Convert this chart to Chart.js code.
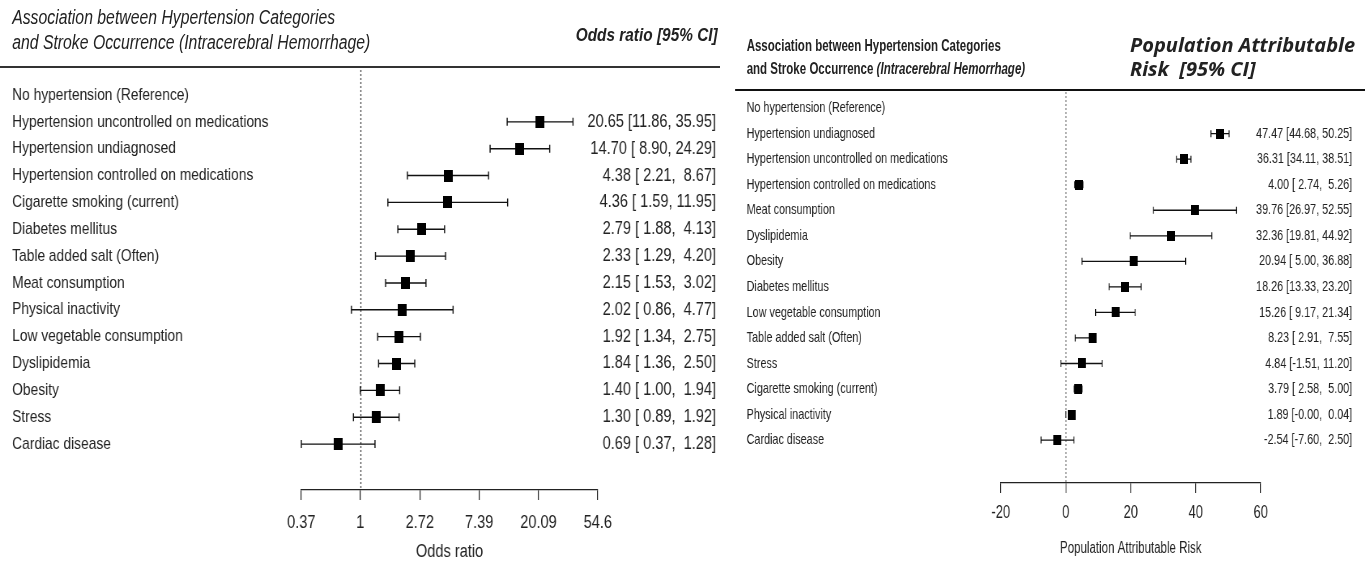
<!DOCTYPE html>
<html>
<head>
<meta charset="utf-8">
<script src="https://cdn.jsdelivr.net/npm/chart.js@4.4.0/dist/chart.umd.min.js"></script>
<style>
  body { margin:0; width:1365px; height:570px; background:#fff; overflow:hidden; position:relative;
         font-family:'Liberation Sans',Arial,sans-serif; color:#222; }
  .panel { position:absolute; top:0; height:570px; transform-origin:0 0; }
  /* the source figure uses a narrow face, so each panel is squeezed sideways */
  #left { left:0; width:889px; transform:scaleX(0.81); }
  #right { left:720px; width:896px; transform:scaleX(0.72); }
  canvas { position:absolute; left:0; top:0; }
  .ttl { position:absolute; white-space:nowrap; }
  .rule { position:absolute; background:#333; }
</style>
</head>
<body>
<div id="left" class="panel">
  <canvas id="orChart" width="889" height="570"></canvas>
  <div class="ttl" style="left:15px;top:5px;font-size:19.5px;line-height:25px;font-style:italic">Association between Hypertension Categories<br>and Stroke Occurrence (Intracerebral Hemorrhage)</div>
  <div class="ttl" style="right:3px;top:23px;font-size:19px;line-height:24px;font-style:italic;font-weight:bold">Odds ratio [95% CI]</div>
  <div class="rule" style="left:0;top:66px;width:889px;height:2px"></div>
</div>
<div id="right" class="panel">
  <canvas id="parChart" width="896" height="570"></canvas>
  <div class="ttl" style="left:37px;top:34px;font-size:16px;line-height:23px;font-weight:bold">Association between Hypertension Categories<br>and Stroke Occurrence <i>(Intracerebral Hemorrhage)</i></div>
  <div class="rule" style="left:21px;top:89px;width:875px;height:2px;background:#111"></div>
</div>
<div class="ttl" style="left:1130px;top:33px;font-family:'Open Sans',sans-serif;font-weight:700;font-style:italic;font-size:20px;line-height:24px">Population Attributable<br>Risk&nbsp; [95% CI]</div>

<script>
// ---- odds ratio panel data ----
var orLabels = ['No hypertension (Reference)', 'Hypertension uncontrolled on medications', 'Hypertension undiagnosed',
  'Hypertension controlled on medications', 'Cigarette smoking (current)', 'Diabetes mellitus', 'Table added salt (Often)',
  'Meat consumption', 'Physical inactivity', 'Low vegetable consumption', 'Dyslipidemia', 'Obesity', 'Stress', 'Cardiac disease'];
var orEst  = [null, 20.65, 14.70, 4.38, 4.36, 2.79, 2.33, 2.15, 2.02, 1.92, 1.84, 1.40, 1.30, 0.69];
var orLow  = [null, 11.86, 8.90, 2.21, 1.59, 1.88, 1.29, 1.53, 0.86, 1.34, 1.36, 1.00, 0.89, 0.37];
var orHigh = [null, 35.95, 24.29, 8.67, 11.95, 4.13, 4.20, 3.02, 4.77, 2.75, 2.50, 1.94, 1.92, 1.28];
var orTicks = [0.37, 1, 2.72, 7.39, 20.09, 54.6];

// ---- population attributable risk panel data ----
var parLabels = ['No hypertension (Reference)', 'Hypertension undiagnosed', 'Hypertension uncontrolled on medications',
  'Hypertension controlled on medications', 'Meat consumption', 'Dyslipidemia', 'Obesity', 'Diabetes mellitus',
  'Low vegetable consumption', 'Table added salt (Often)', 'Stress', 'Cigarette smoking (current)', 'Physical inactivity', 'Cardiac disease'];
var parEst  = [null, 47.47, 36.31, 4.00, 39.76, 32.36, 20.94, 18.26, 15.26, 8.23, 4.84, 3.79, 1.89, -2.54];
var parLow  = [null, 44.68, 34.11, 2.74, 26.97, 19.81, 5.00, 13.33, 9.17, 2.91, -1.51, 2.58, -0.003, -7.60];
var parHigh = [null, 50.25, 38.51, 5.26, 52.55, 44.92, 36.88, 23.20, 21.34, 7.55, 11.20, 5.00, 0.04, 2.50];
var parTicks = [-20, 0, 20, 40, 60];

var FONT = "'Liberation Sans', Arial, sans-serif";
var INK = '#222';

function ciText(est, lo, hi) {
  var f = function (v) { return v.toFixed(2).padStart(5, ' '); };
  return est.toFixed(2) + ' [' + f(lo) + ', ' + f(hi) + ']';
}

function points(est) {
  var out = [];
  est.forEach(function (v, i) { if (v != null) out.push({ x: v, y: i }); });
  return out;
}

// little filled box used as the point marker
function box(w, h) {
  var c = document.createElement('canvas');
  c.width = w; c.height = h;
  var g = c.getContext('2d');
  g.fillStyle = '#000';
  g.fillRect(0, 0, w, h);
  return c;
}

// dotted null line, CI whiskers and the estimate text column
function makeForest(cfg) {
  return {
    id: 'forest',
    beforeDatasetsDraw: function (chart) {
      var ctx = chart.ctx, a = chart.chartArea, x = chart.scales.x, y = chart.scales.y;
      ctx.save();
      var x0 = Math.round(x.getPixelForValue(cfg.nullValue)) + 0.5;
      ctx.strokeStyle = '#333';
      ctx.lineWidth = 1.2;
      ctx.setLineDash([2, 2]);
      ctx.beginPath(); ctx.moveTo(x0, a.top); ctx.lineTo(x0, a.bottom); ctx.stroke();
      ctx.setLineDash([]);
      ctx.strokeStyle = '#111';
      ctx.lineWidth = cfg.lineWidth;
      cfg.low.forEach(function (lo, i) {
        if (lo == null) return;
        var yy = y.getPixelForValue(i);
        var x1 = x.getPixelForValue(lo), x2 = x.getPixelForValue(cfg.high[i]);
        ctx.beginPath();
        ctx.moveTo(x1, yy); ctx.lineTo(x2, yy);
        ctx.moveTo(x1, yy - cfg.cap); ctx.lineTo(x1, yy + cfg.cap);
        ctx.moveTo(x2, yy - cfg.cap); ctx.lineTo(x2, yy + cfg.cap);
        ctx.stroke();
      });
      ctx.restore();
    },
    afterDatasetsDraw: function (chart) {
      var ctx = chart.ctx, y = chart.scales.y;
      ctx.save();
      ctx.font = cfg.font;
      ctx.fillStyle = INK;
      ctx.textAlign = 'right';
      ctx.textBaseline = 'middle';
      cfg.est.forEach(function (e, i) {
        if (e == null) return;
        ctx.fillText(ciText(e, cfg.low[i], cfg.high[i]), cfg.textRight, y.getPixelForValue(i));
      });
      ctx.restore();
    }
  };
}

function forestChart(el, o) {
  return new Chart(document.getElementById(el), {
    type: 'scatter',
    data: { datasets: [{ data: points(o.est), pointStyle: box(o.boxW, o.boxH), pointRadius: 5, pointHoverRadius: 5,
                         backgroundColor: '#000', borderColor: '#000' }] },
    options: {
      responsive: false, animation: false, events: [],
      layout: { padding: o.padding },
      plugins: { legend: { display: false }, tooltip: { enabled: false } },
      scales: {
        x: {
          type: o.xType, min: o.ticks[0], max: o.ticks[o.ticks.length - 1],
          afterBuildTicks: function (s) { s.ticks = o.ticks.map(function (v) { return { value: v }; }); },
          afterFit: function (s) { s.height = o.xHeight; },
          ticks: { callback: function (v) { return String(v); }, font: { family: FONT, size: o.tickSize }, color: INK,
                   padding: o.tickPad, maxRotation: 0, autoSkip: false },
          grid: { drawOnChartArea: false, tickLength: 10, color: INK, lineWidth: 1.2 },
          border: { color: INK, width: 1.2 },
          title: { display: true, text: o.xTitle, font: { family: FONT, size: o.titleSize }, color: INK,
                   padding: { top: 0, bottom: o.titlePad } }
        },
        y: {
          type: 'linear', reverse: true, min: o.yMin, max: o.yMax,
          afterBuildTicks: function (s) { s.ticks = o.labels.map(function (_, i) { return { value: i }; }); },
          afterFit: function (s) { s.width = o.yWidth; },
          ticks: { callback: function (v) { return o.labels[v]; }, crossAlign: 'far', autoSkip: false,
                   font: { family: FONT, size: o.labelSize }, color: INK },
          grid: { display: false },
          border: { display: false }
        }
      }
    },
    plugins: [makeForest({ nullValue: o.nullValue, est: o.est, low: o.low, high: o.high, cap: o.cap,
                           lineWidth: o.lineWidth, textRight: o.textRight, font: o.ciSize + 'px ' + FONT })]
  });
}

// left panel works in units squeezed by 0.81
forestChart('orChart', {
  xType: 'logarithmic', ticks: orTicks, xTitle: 'Odds ratio', labels: orLabels,
  est: orEst, low: orLow, high: orHigh, nullValue: 1,
  padding: { left: 15, top: 70, right: 151, bottom: 0 },
  yMin: -0.93, yMax: 14.71, yWidth: 357, xHeight: 80,
  tickSize: 18, tickPad: 12, titleSize: 18, titlePad: 7, labelSize: 17, ciSize: 18,
  boxW: 11, boxH: 12, cap: 4, lineWidth: 1.4, textRight: 884
});

// right panel works in units squeezed by 0.72
forestChart('parChart', {
  xType: 'linear', ticks: parTicks, xTitle: 'Population Attributable Risk', labels: parLabels,
  est: parEst, low: parLow, high: parHigh, nullValue: 0,
  padding: { left: 37, top: 92, right: 145, bottom: 0 },
  yMin: -0.63, yMax: 14.68, yWidth: 353, xHeight: 87,
  tickSize: 18, tickPad: 9, titleSize: 16, titlePad: 12, labelSize: 15, ciSize: 15,
  boxW: 11, boxH: 10, cap: 3.5, lineWidth: 1.3, textRight: 878
});
</script>
</body>
</html>
